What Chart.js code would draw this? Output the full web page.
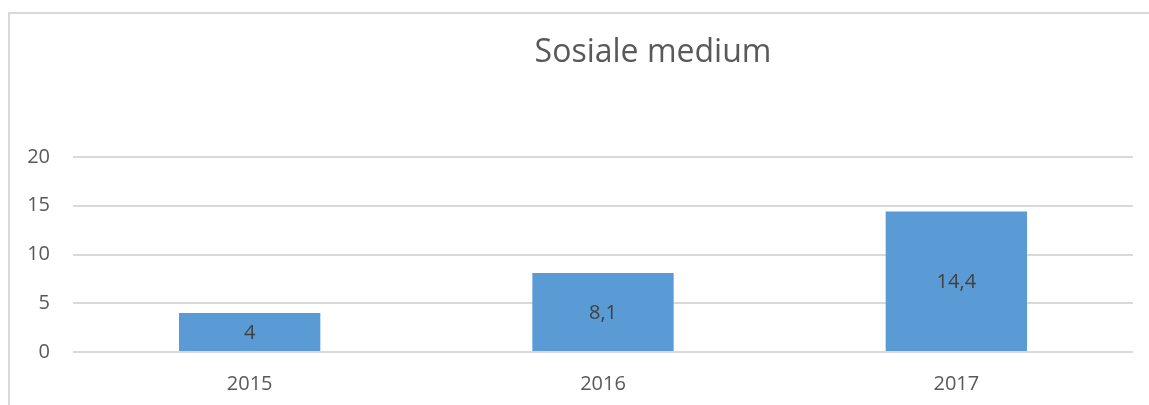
<!DOCTYPE html>
<html>
<head>
<meta charset="utf-8">
<script src="https://cdn.jsdelivr.net/npm/chart.js@4.4.1/dist/chart.umd.min.js"></script>
<style>
  html, body { margin: 0; padding: 0; background: #ffffff; overflow: hidden; }
  #wrap { position: relative; width: 1149px; height: 405px; }
  #frame { position: absolute; left: 8px; top: 12px; width: 1200px; height: 500px; border: 2px solid #d9d9d9; box-sizing: border-box; }
  canvas { position: absolute; left: 0; top: 0; }
</style>
</head>
<body>
<div id="wrap">
  <div id="frame"></div>
  <canvas id="c" width="1149" height="405"></canvas>
</div>
<script>
const categories = ['2015', '2016', '2017'];
const values = [4, 8.1, 14.4];
const valueLabels = ['4', '8,1', '14,4'];
const yTicks = [0, 5, 10, 15, 20];
const chartTitle = 'Sosiale medium';

const FONT = "'Open Sans', 'Noto Sans', sans-serif";
const TEXT = '#595959';

const titlePlugin = {
  id: 'offsetTitle',
  afterDraw(chart) {
    const ctx = chart.ctx;
    ctx.save();
    ctx.font = "32px " + FONT;
    ctx.fillStyle = TEXT;
    ctx.textAlign = 'center';
    ctx.textBaseline = 'alphabetic';
    ctx.fillText(chartTitle, 653, 62);
    ctx.restore();
  }
};

const valueLabelPlugin = {
  id: 'valueLabels',
  afterDatasetsDraw(chart) {
    const ctx = chart.ctx;
    const meta = chart.getDatasetMeta(0);
    ctx.save();
    ctx.font = "20px " + FONT;
    ctx.fillStyle = '#404040';
    ctx.textAlign = 'center';
    ctx.textBaseline = 'middle';
    meta.data.forEach((bar, i) => {
      const p = bar.getProps(['x', 'y', 'base'], true);
      ctx.fillText(valueLabels[i], p.x, (p.y + p.base) / 2 + 1);
    });
    ctx.restore();
  }
};

new Chart(document.getElementById('c'), {
  type: 'bar',
  data: {
    labels: categories,
    datasets: [{
      data: values,
      backgroundColor: '#5b9bd5',
      borderWidth: 0,
      barPercentage: 0.4,
      categoryPercentage: 1.0
    }]
  },
  options: {
    responsive: false,
    animation: false,
    events: [],
    layout: { padding: { top: 157, right: 16, left: 0, bottom: 0 } },
    plugins: {
      legend: { display: false },
      title: { display: false },
      tooltip: { enabled: false }
    },
    scales: {
      x: {
        grid: { display: false, drawTicks: false },
        border: { display: false },
        ticks: { color: TEXT, font: { family: FONT, size: 20 }, padding: 20 },
        afterFit(scale) { scale.height = 53; }
      },
      y: {
        min: 0, max: 20,
        afterBuildTicks(scale) { scale.ticks = yTicks.map(v => ({ value: v })); },
        grid: { color: '#d9d9d9', lineWidth: 2, drawTicks: false },
        border: { display: false },
        ticks: { color: TEXT, font: { family: FONT, size: 20 }, padding: 23 },
        afterFit(scale) { scale.width = 73; }
      }
    }
  },
  plugins: [titlePlugin, valueLabelPlugin]
});
</script>
</body>
</html>
